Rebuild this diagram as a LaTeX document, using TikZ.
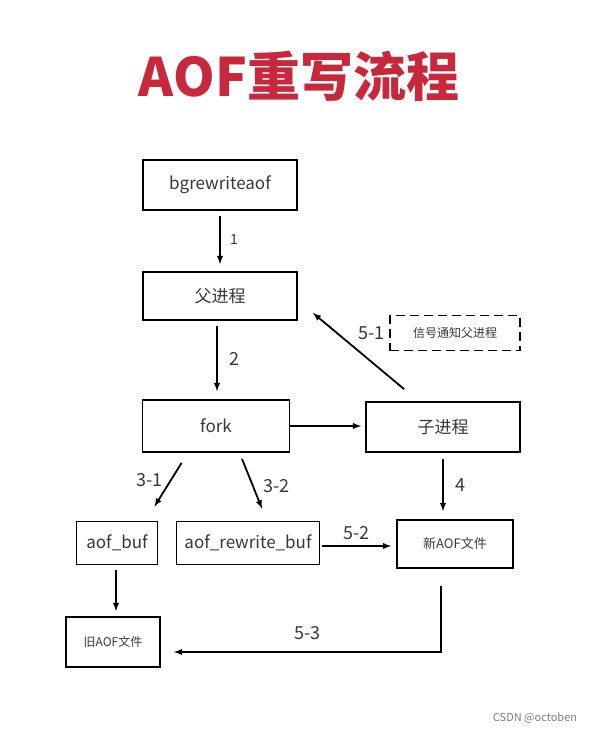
\documentclass[tikz,border=0pt]{standalone}
\usepackage{fontspec}
\usepackage{xcolor}
\setmainfont{Noto Sans CJK SC}
\usetikzlibrary{positioning}
\definecolor{titlered}{RGB}{200,40,60}
\definecolor{inkgray}{RGB}{55,55,65}

\begin{document}
\begin{tikzpicture}[
    x=1pt, y=-1pt,
    module/.style={
        draw,
        rectangle,
        line width=1.8pt,
        minimum width=154pt,
        minimum height=50pt,
        inner sep=2pt,
        align=center,
        text=inkgray,
        font=\fontsize{17}{20}\selectfont
    },
    buffer/.style={
        module,
        minimum width=82pt,
        minimum height=44pt
    },
    signal/.style={
        module,
        dash pattern=on 9pt off 5pt,
        minimum width=130pt,
        minimum height=35pt,
        font=\fontsize{12}{14}\selectfont
    },
    flow/.style={
        ->,
        >=latex,
        line width=1.8pt
    },
    tag/.style={
        font=\fontsize{18}{20}\selectfont,
        text=inkgray
    }
]
    \useasboundingbox[fill=white] (0,0) rectangle (596,733);

    % Title
    \node[font=\fontsize{53}{58}\selectfont\bfseries, text=titlered] (title) at (299,76) {AOF重写流程};

    % Parent side
    \node[module] (bgrw) at (220,185) {bgrewriteaof};
    \node[module, minimum height=48pt] (parent) at (220,296) {父进程};
    \node[module, minimum width=147pt, minimum height=52pt] (fork) at (216,426) {fork};

    % Child side
    \node[module] (child) at (443,427) {子进程};
    \node[signal] (notify) at (455,333) {信号通知父进程};

    % Buffers and files
    \node[buffer, minimum width=81pt, minimum height=43pt] (aofbuf) at (117,543) {aof\_buf};
    \node[buffer, minimum width=143pt, minimum height=43pt] (rewbuf) at (248,543) {aof\_rewrite\_buf};
    \node[buffer, minimum width=116pt, minimum height=48pt, font=\fontsize{13}{15}\selectfont] (newaof) at (455,544) {新AOF文件};
    \node[buffer, minimum width=94pt, minimum height=50pt, font=\fontsize{12}{14}\selectfont] (oldaof) at (113,642) {旧AOF文件};

    % Steps 1 and 2
    \draw[flow] ([yshift=-5pt]bgrw.south) -- node[tag, right=6pt, font=\fontsize{14}{16}\selectfont] {1} ([yshift=7pt]parent.north);
    \draw[flow] ([xshift=-3pt,yshift=-5pt]parent.south) -- node[tag, right=8pt] {2} ([xshift=1pt,yshift=8pt]fork.north);

    % fork to child, child signals parent
    \draw[flow] (fork.east) -- ([xshift=-4pt]fork.east -| child.west);
    \draw[flow] ([xshift=39pt,yshift=12pt]child.north west) -- ([xshift=15pt,yshift=8pt]parent.south east);
    \node[tag, left=1pt of notify.west] (s51) {5-1};

    % Steps 3-1 and 3-2
    \draw[flow] ([xshift=40pt,yshift=-10pt]fork.south west) -- node[tag, left=4pt, pos=0.4] {3-1} ([xshift=-4pt,yshift=14pt]aofbuf.north east);
    \draw[flow] ([xshift=26pt,yshift=-6pt]fork.south) -- node[tag, right=6pt, pos=0.55] {3-2} ([xshift=14pt,yshift=12pt]rewbuf.north);

    % Step 4 and 5-2
    \draw[flow] ([yshift=-6pt]child.south) -- node[tag, right=8pt] {4} ([xshift=-12pt,yshift=8pt]newaof.north);
    \draw[flow] ([xshift=2pt,yshift=-3pt]rewbuf.east) -- node[tag, above=2pt] {5-2} ([xshift=-5pt,yshift=-2pt]newaof.west);

    % Old file and step 5-3
    \draw[flow] ([xshift=-1pt,yshift=-5pt]aofbuf.south) -- ([xshift=3pt,yshift=5pt]oldaof.north);
    \coordinate (newdrop) at ([xshift=-14pt,yshift=-17pt]newaof.south);
    \draw[flow] (newdrop) |- node[tag, above=8pt, pos=0.75] {5-3} ([xshift=13pt,yshift=-10pt]oldaof.east);

    % Watermark
    \node[font=\fontsize{11}{13}\selectfont, text=gray] (mark) at (535,718) {CSDN @octoben};
\end{tikzpicture}
\end{document}
